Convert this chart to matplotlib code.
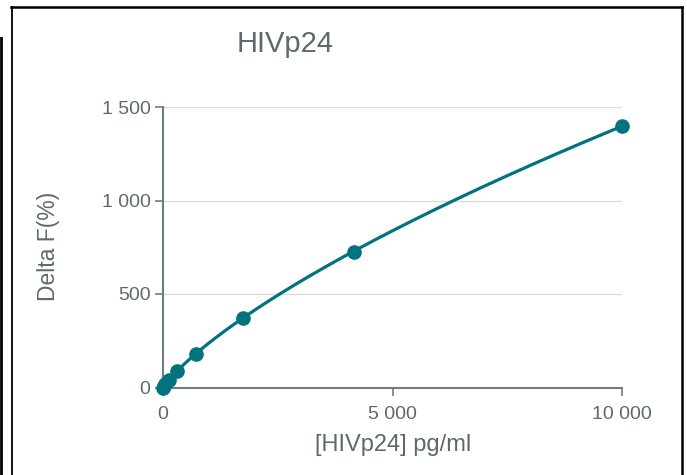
import numpy as np
import matplotlib
matplotlib.use("Agg")
import matplotlib.pyplot as plt
from matplotlib.lines import Line2D

# Data
conc = [0, 22, 52, 126, 301, 723, 1736, 4167, 10000]
delta_f = [0, 8, 18, 40, 88, 181, 374, 726, 1398]
x_ticks = [0, 5000, 10000]
x_tick_labels = ["0", "5 000", "10 000"]
y_ticks = [0, 500, 1000, 1500]
y_tick_labels = ["0", "500", "1 000", "1 500"]
title = "HIVp24"
x_label = "[HIVp24] pg/ml"
y_label = "Delta F(%)"

teal = "#00737f"
text_col = "#5d6a6d"
axis_col = "#6f7d80"
grid_col = "#dcdcdc"

plt.rcParams['font.family'] = ['Liberation Sans', 'DejaVu Sans']

fig = plt.figure(figsize=(6.87, 4.75), dpi=100)
W, H = 687, 475
ax = fig.add_axes([163 / W, 1 - 387.5 / H, (622 - 163) / W, (387.5 - 107) / H])

# smooth fitted curve (log-log quadratic through positive points)
xa = np.array(conc, float)
ya = np.array(delta_f, float)
m = (xa > 0) & (ya > 0)
coef = np.polyfit(np.log(xa[m]), np.log(ya[m]), 2)
xc = np.geomspace(xa[m].min() / 5, xa.max(), 400)
yc = np.exp(np.polyval(coef, np.log(xc)))
xc = np.concatenate([[0], xc])
yc = np.concatenate([[0], yc])
ax.plot(xc, yc, color=teal, lw=2.3, clip_on=False, zorder=3)
ax.plot(conc, delta_f, 'o', color=teal, ms=9.5, clip_on=False, zorder=4)

ax.set_xlim(0, 10000)
ax.set_ylim(0, 1500)
ax.set_xticks(x_ticks)
ax.set_xticklabels(x_tick_labels)
ax.set_yticks(y_ticks)
ax.set_yticklabels(y_tick_labels)
for s in ['top', 'right']:
    ax.spines[s].set_visible(False)
for s in ['left', 'bottom']:
    ax.spines[s].set_color(axis_col)
    ax.spines[s].set_linewidth(1.5)
ax.tick_params(axis='both', colors=axis_col, labelcolor=text_col, labelsize=14,
               length=6, width=1.2)
ax.tick_params(axis='x', pad=7)
ax.tick_params(axis='y', pad=3)
ax.yaxis.grid(True, color=grid_col, lw=1)
ax.set_axisbelow(True)

fig.text(285 / W, 1 - 44 / H, title, ha='center', va='center', fontsize=21, color=text_col)
fig.text(393 / W, 1 - 445 / H, x_label, ha='center', va='center', fontsize=17, color=text_col)
fig.text(48 / W, 1 - 246 / H, y_label, ha='center', va='center', fontsize=16.5,
         color=text_col, rotation=90)

# outer frame
fig.add_artist(Line2D([11 / W, 682 / W], [1 - 6.5 / H, 1 - 6.5 / H], transform=fig.transFigure, color='black', lw=1.8))
fig.add_artist(Line2D([11.5 / W, 11.5 / W], [0, 1 - 6.5 / H], transform=fig.transFigure, color='black', lw=1.3))
fig.add_artist(Line2D([682 / W, 682 / W], [0, 1 - 6.5 / H], transform=fig.transFigure, color='black', lw=1.8))
fig.add_artist(Line2D([1.2 / W, 1.2 / W], [0, 1 - 38 / H], transform=fig.transFigure, color='black', lw=2))

fig.savefig("out.png", dpi=100)
